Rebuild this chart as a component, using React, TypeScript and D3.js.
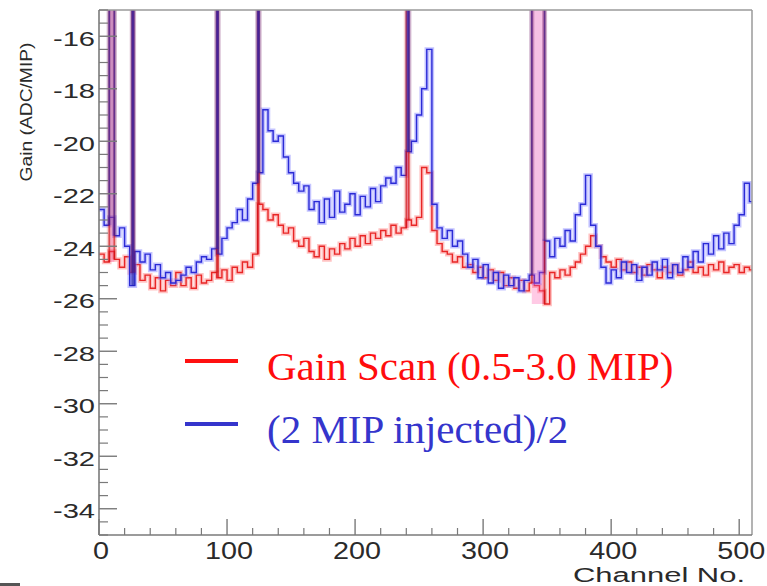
import React from 'react';
import * as d3 from 'd3';

// Histogram values, 4 channels per bin (channels 0..511)
const channelsPerBin = 4;

const gainScan = [
  -24.3, -24.6, -24.2, -24.5, -24.8, -24.4, -25.0, -24.7, -25.3, -25.1,
  -25.6, -25.2, -25.7, -25.3, -25.5, -25.0, -25.5, -25.2, -25.6, -25.1,
  -25.4, -25.3, -25.0, -25.2, -24.9, -25.3, -24.8, -25.0, -24.6, -24.8,
  -24.3, -22.4, -22.6, -23.0, -22.8, -23.2, -23.5, -23.3, -23.8, -24.0,
  -23.7, -24.2, -24.4, -24.0, -24.5, -24.1, -24.3, -23.9, -24.1, -23.7,
  -24.0, -23.6, -23.9, -23.5, -23.7, -23.4, -23.6, -23.2, -23.5, -23.3,
  -23.0, -23.2, -22.9, -21.0, -21.2, -23.4, -23.9, -24.2, -24.3, -24.6,
  -24.4, -24.8, -24.7, -25.0, -24.8, -25.2, -24.9, -25.3, -25.0, -25.5,
  -25.2, -25.6, -25.3, -25.7, -25.4, -25.5, -25.7, -26.2, -25.0, -25.2,
  -24.9, -25.1, -24.8, -24.6, -24.3, -24.0, -23.6, -24.0, -24.4, -24.6,
  -24.8, -24.5, -24.9, -24.6, -25.0, -24.8, -25.1, -24.7, -24.9, -25.2,
  -24.8, -25.0, -24.7, -25.1, -24.9, -24.6, -25.0, -24.8, -25.1, -24.7,
  -24.9, -24.6, -25.0, -24.8, -24.7, -25.0, -24.8, -24.9,
];

const injectedHalf = [
  -22.6, -23.2, -22.9, -23.6, -23.3, -24.0, -25.5, -24.2, -24.6, -24.3,
  -24.9, -24.7, -25.2, -25.0, -25.4, -25.3, -25.1, -24.8, -25.0, -24.6,
  -24.4, -24.5, -24.1, -24.3, -23.7, -23.3, -23.1, -22.6, -23.0, -22.2,
  -21.6, -21.2, -18.8, -19.6, -20.0, -19.8, -20.6, -21.2, -21.6, -21.9,
  -21.7, -22.6, -22.3, -23.1, -22.2, -22.9, -21.9, -22.7, -22.4, -22.0,
  -22.8, -22.1, -22.5, -21.8, -22.3, -21.7, -21.4, -21.6, -21.0, -21.3,
  -20.4, -20.0, -19.0, -18.0, -16.5, -22.4, -23.3, -23.7, -23.4, -24.0,
  -23.8, -24.3, -24.8, -24.5, -25.2, -24.7, -25.4, -25.0, -25.6, -25.1,
  -25.5, -25.2, -25.7, -25.3, -25.1, -25.4, -25.0, -23.8, -24.4, -23.7,
  -24.0, -23.4, -23.8, -22.8, -22.4, -21.3, -23.2, -24.0, -24.8, -25.4,
  -24.9, -25.2, -24.6, -25.0, -24.7, -25.3, -24.8, -25.1, -24.6, -24.9,
  -24.5, -25.2, -24.7, -25.0, -24.4, -24.8, -24.2, -24.6, -23.9, -24.3,
  -23.6, -24.1, -23.5, -23.9, -23.2, -22.8, -21.6, -22.3,
];

// Channel ranges [start, end) whose value is off the top of the scale
const gainScanOverflow = [[8, 12], [26, 27], [92, 93], [124, 125], [240, 242], [338, 348]];
const injectedOverflow = [[8, 12], [26, 27], [92, 93], [124, 125], [241, 242], [338, 348]];

const yTicks = [-34, -32, -30, -28, -26, -24, -22, -20, -18, -16];
const xTicks = [0, 100, 200, 300, 400, 500];
const seriesNames = ['Gain Scan (0.5-3.0 MIP)', '(2 MIP injected)/2'];
const yTitle = 'Gain (ADC/MIP)';
const xTitle = 'Channel No.';

export default function App() {
  const W = 767, H = 586;
  const left = 99, right = 752, top = 10, bottom = 535;
  const x = d3.scaleLinear().domain([0, 510]).range([left, right]);
  const y = d3.scaleLinear().domain([-35, -15]).range([bottom, top]);

  const stepPath = (bins: number[]) => {
    const pts: [number, number][] = bins.map((v, i) => [i * channelsPerBin, v]);
    pts.push([bins.length * channelsPerBin, bins[bins.length - 1]]);
    return d3.line<[number, number]>()
      .x(d => x(d[0]))
      .y(d => y(d[1]))
      .curve(d3.curveStepAfter)(pts) as string;
  };
  const valAt = (bins: number[], ch: number) =>
    bins[Math.max(0, Math.min(bins.length - 1, Math.floor(ch / channelsPerBin)))];

  const minorY = d3.range(-35, -14.99, 0.5).filter(v => Math.abs(v / 2 - Math.round(v / 2)) > 1e-6);
  const minorX = d3.range(0, 511, 20).filter(v => v % 100 !== 0);

  const series = [
    { bins: gainScan, overflow: gainScanOverflow, core: '#e82626', halo: '#ff7a7a', spike: '#d01010', fill: '#ff4fa8', spikeOp: 0.65, fillOp: 0.3 },
    { bins: injectedHalf, overflow: injectedOverflow, core: '#2b2bd6', halo: '#7c7cff', spike: '#2020b0', fill: '#8a5ad8', spikeOp: 0.55, fillOp: 0.08 },
  ];

  const axisCol = '#7a7a7a';
  const labelCol = '#2a2a2a';
  const sans = 'Arial, "Liberation Sans", Helvetica, sans-serif';

  return (
    <svg width={W} height={H} style={{ position: 'absolute', left: 0, top: 0, background: '#fff' }}>
      <defs>
        <clipPath id="plot">
          <rect x={left} y={top} width={right - left} height={bottom - top} />
        </clipPath>
      </defs>
      <rect x={0} y={0} width={W} height={H} fill="#fff" />

      <g clipPath="url(#plot)">
        {series.map((s, k) => (
          <g key={'c' + k}>
            <path d={stepPath(s.bins)} fill="none" stroke={s.halo} strokeWidth={4.5} strokeOpacity={0.45} />
            <path d={stepPath(s.bins)} fill="none" stroke={s.core} strokeWidth={1.4} />
          </g>
        ))}
        {series.map((s, k) => (
          <g key={'s' + k}>
            {s.overflow.map(([a, b], j) => {
              const xa = x(a), xb = x(b);
              const ya = y(valAt(s.bins, a - 1));
              const yb = y(valAt(s.bins, b));
              return (
                <g key={j}>
                  <rect x={xa} y={top} width={xb - xa} height={Math.max(ya, yb) - top} fill={s.fill} fillOpacity={s.fillOp} />
                  <line x1={xa} x2={xa} y1={top} y2={ya} stroke={s.spike} strokeWidth={5} strokeOpacity={0.18} />
                  <line x1={xb} x2={xb} y1={top} y2={yb} stroke={s.spike} strokeWidth={5} strokeOpacity={0.18} />
                  <line x1={xa} x2={xa} y1={top} y2={ya} stroke={s.spike} strokeWidth={1.8} strokeOpacity={s.spikeOp} />
                  <line x1={xb} x2={xb} y1={top} y2={yb} stroke={s.spike} strokeWidth={1.8} strokeOpacity={s.spikeOp} />
                </g>
              );
            })}
          </g>
        ))}
      </g>

      {/* frame */}
      <line x1={left} x2={right} y1={top} y2={top} stroke="#9a9a9a" strokeWidth={1.5} />
      <line x1={right} x2={right} y1={top} y2={bottom} stroke="#9a9a9a" strokeWidth={1.5} />
      <line x1={left} x2={left} y1={top} y2={bottom} stroke={axisCol} strokeWidth={1.6} />
      <line x1={left} x2={right} y1={bottom} y2={bottom} stroke={axisCol} strokeWidth={1.6} />

      {/* y ticks */}
      {yTicks.map(t => (
        <g key={'yt' + t}>
          <line x1={left} x2={left + 18} y1={y(t)} y2={y(t)} stroke={axisCol} strokeWidth={1.4} />
          <text x={95} y={y(t) + 9.5} textAnchor="end" fontFamily={sans} fontSize={21} fill={labelCol}
            textLength={42} lengthAdjust="spacingAndGlyphs">{String(t)}</text>
        </g>
      ))}
      {minorY.map(t => (
        <line key={'ym' + t} x1={left} x2={left + 9} y1={y(t)} y2={y(t)} stroke={axisCol} strokeWidth={1.2} />
      ))}

      {/* x ticks */}
      {xTicks.map(t => (
        <g key={'xt' + t}>
          <line x1={x(t)} x2={x(t)} y1={bottom} y2={bottom - 16} stroke={axisCol} strokeWidth={1.4} />
          <text x={x(t) + 2} y={558.5} textAnchor="middle" fontFamily={sans} fontSize={23} fill={labelCol}
            textLength={String(t).length * 16} lengthAdjust="spacingAndGlyphs">{String(t)}</text>
        </g>
      ))}
      {minorX.map(t => (
        <line key={'xm' + t} x1={x(t)} x2={x(t)} y1={bottom} y2={bottom - 7} stroke={axisCol} strokeWidth={1.2} />
      ))}

      {/* axis titles */}
      <text transform="translate(32,112) rotate(-90)" textAnchor="middle" fontFamily={sans} fontSize={16}
        fill={labelCol} textLength={139} lengthAdjust="spacingAndGlyphs">{yTitle}</text>
      <text x={745} y={582} textAnchor="end" fontFamily={sans} fontSize={20} fill={labelCol}
        textLength={172} lengthAdjust="spacingAndGlyphs">{xTitle}</text>

      {/* legend */}
      <line x1={185} x2={238} y1={361} y2={361} stroke="#ff1010" strokeWidth={4} />
      <text x={267} y={380} fontFamily='"Liberation Serif", "Times New Roman", serif' fontSize={41} fill="#ff0d0d">{seriesNames[0]}</text>
      <line x1={185} x2={238} y1={424} y2={424} stroke="#3535cc" strokeWidth={4} />
      <text x={267} y={443} fontFamily='"Liberation Serif", "Times New Roman", serif' fontSize={41} fill="#3535cc">{seriesNames[1]}</text>

      <rect x={0} y={583} width={20} height={3} fill="#555" />
    </svg>
  );
}
